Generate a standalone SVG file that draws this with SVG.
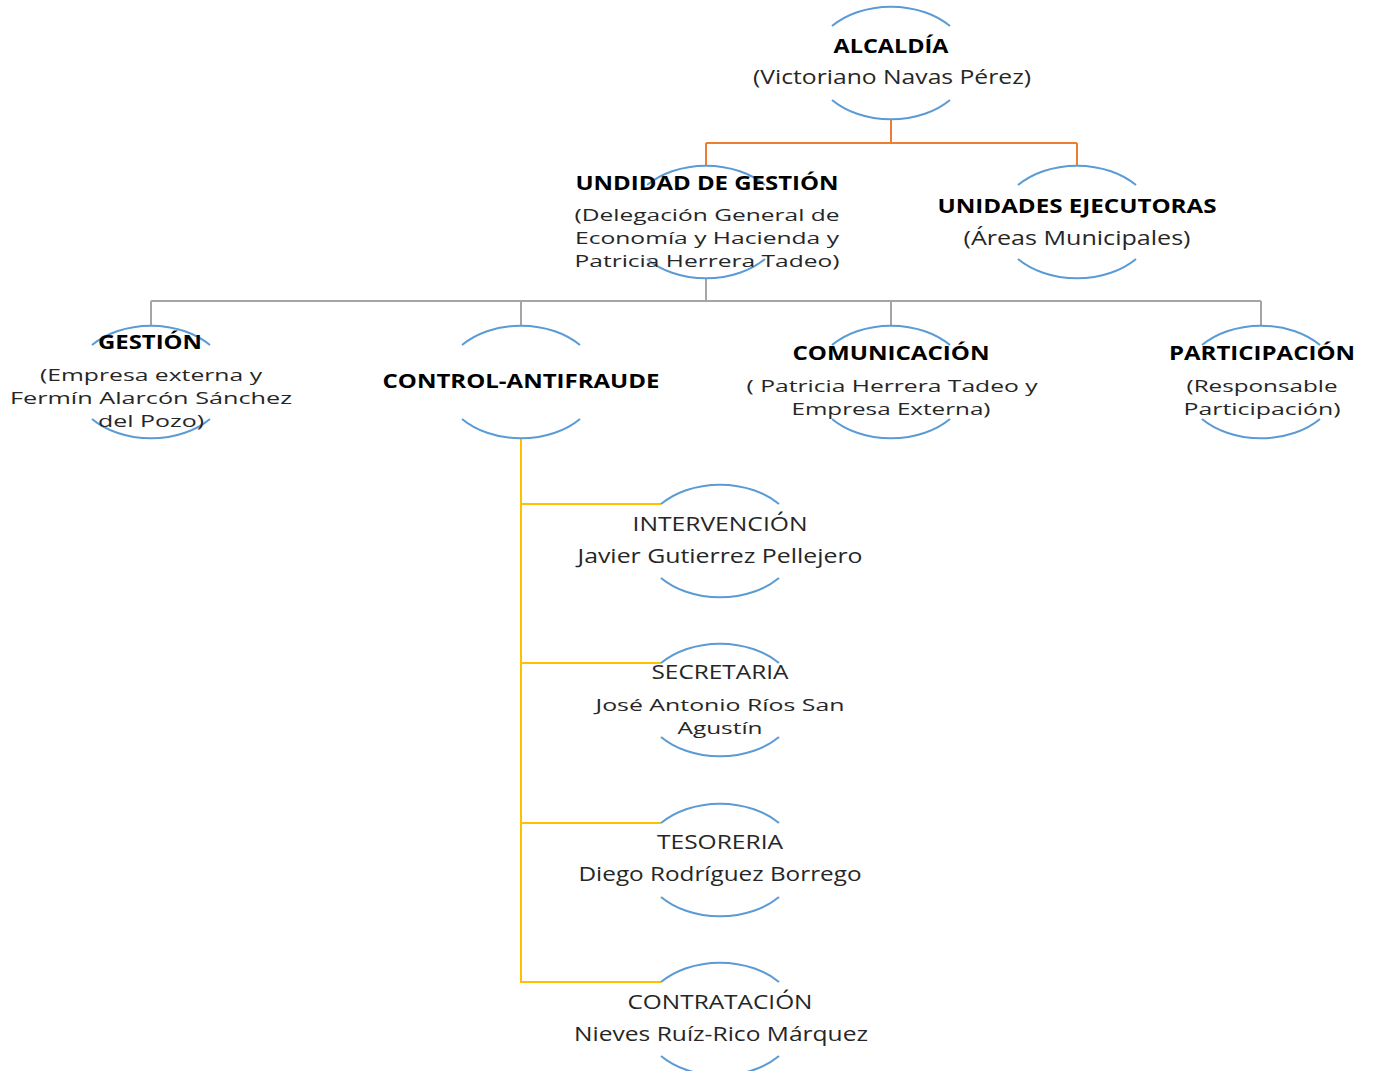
<svg xmlns="http://www.w3.org/2000/svg" width="1373" height="1071" viewBox="0 0 1373 1071">
<style>
.arc{fill:none;stroke:#5B9BD5;stroke-width:2}
.c{fill:none;stroke-width:2}
.o{stroke:#ED7D31}
.g{stroke:#A5A5A5}
.y{stroke:#FFC000}
text{font-family:"Open Sans","Liberation Sans",sans-serif;font-size:20px;fill:#262626;text-anchor:middle}
.m{font-size:17px}
.b{font-weight:700;fill:#000}
</style>
<defs>
<path id="ring" class="arc" d="M-59,-37 A78,56 0 0 1 59,-37 M-59,37 A78,56 0 0 0 59,37"/>
</defs>
<rect width="1373" height="1071" fill="#fff"/>
<g id="connectors">
<path class="c o" d="M891,119 V143 M706,143 H1077 M706,143 V166 M1077,143 V166"/>
<path class="c g" d="M706,278 V301 M151,301 H1261 M151,301 V326 M521,301 V326 M891,301 V326 M1261,301 V326"/>
<path class="c y" d="M521,438 V983 M521,504 H661 M521,663 H661 M521,823 H661 M521,982 H661"/>
</g>
<g id="alcaldia">
<use href="#ring" x="891" y="63"/>
<text class="b" x="891" y="53" textLength="115" lengthAdjust="spacingAndGlyphs">ALCALDÍA</text>
<text x="892" y="84" textLength="278" lengthAdjust="spacingAndGlyphs">(Victoriano Navas Pérez)</text>
</g>
<g id="unidad-gestion">
<use href="#ring" x="706" y="222"/>
<text class="b" x="707" y="190" textLength="263" lengthAdjust="spacingAndGlyphs">UNDIDAD DE GESTIÓN</text>
<text class="m" x="707" y="221" textLength="265" lengthAdjust="spacingAndGlyphs">(Delegación General de</text>
<text class="m" x="707" y="244" textLength="264" lengthAdjust="spacingAndGlyphs">Economía y Hacienda y</text>
<text class="m" x="707" y="267" textLength="265" lengthAdjust="spacingAndGlyphs">Patricia Herrera Tadeo)</text>
</g>
<g id="unidades-ejecutoras">
<use href="#ring" x="1077" y="222"/>
<text class="b" x="1077" y="213" textLength="279" lengthAdjust="spacingAndGlyphs">UNIDADES EJECUTORAS</text>
<text x="1077" y="245" textLength="227" lengthAdjust="spacingAndGlyphs">(Áreas Municipales)</text>
</g>
<g id="gestion">
<use href="#ring" x="151" y="382"/>
<text class="b" x="150" y="349" textLength="104" lengthAdjust="spacingAndGlyphs">GESTIÓN</text>
<text class="m" x="151" y="381" textLength="222" lengthAdjust="spacingAndGlyphs">(Empresa externa y</text>
<text class="m" x="151" y="404" textLength="282" lengthAdjust="spacingAndGlyphs">Fermín  Alarcón Sánchez</text>
<text class="m" x="151" y="427" textLength="106" lengthAdjust="spacingAndGlyphs">del Pozo)</text>
</g>
<g id="control-antifraude">
<use href="#ring" x="521" y="382"/>
<text class="b" x="521" y="388" textLength="277" lengthAdjust="spacingAndGlyphs">CONTROL-ANTIFRAUDE</text>
</g>
<g id="comunicacion">
<use href="#ring" x="891" y="382"/>
<text class="b" x="891" y="360" textLength="197" lengthAdjust="spacingAndGlyphs">COMUNICACIÓN</text>
<text class="m" x="892" y="392" textLength="291" lengthAdjust="spacingAndGlyphs">( Patricia Herrera Tadeo y</text>
<text class="m" x="891" y="415" textLength="199" lengthAdjust="spacingAndGlyphs">Empresa Externa)</text>
</g>
<g id="participacion">
<use href="#ring" x="1261" y="382"/>
<text class="b" x="1262" y="360" textLength="186" lengthAdjust="spacingAndGlyphs">PARTICIPACIÓN</text>
<text class="m" x="1262" y="392" textLength="151" lengthAdjust="spacingAndGlyphs">(Responsable</text>
<text class="m" x="1262" y="415" textLength="157" lengthAdjust="spacingAndGlyphs">Participación)</text>
</g>
<g id="intervencion">
<use href="#ring" x="720" y="541"/>
<text x="720" y="531" textLength="175" lengthAdjust="spacingAndGlyphs">INTERVENCIÓN</text>
<text x="720" y="563" textLength="285" lengthAdjust="spacingAndGlyphs">Javier Gutierrez Pellejero</text>
</g>
<g id="secretaria">
<use href="#ring" x="720" y="700"/>
<text x="720" y="679" textLength="137" lengthAdjust="spacingAndGlyphs">SECRETARIA</text>
<text class="m" x="720" y="711" textLength="249" lengthAdjust="spacingAndGlyphs">José Antonio Ríos San</text>
<text class="m" x="720" y="734" textLength="85" lengthAdjust="spacingAndGlyphs">Agustín</text>
</g>
<g id="tesoreria">
<use href="#ring" x="720" y="860"/>
<text x="720" y="849" textLength="126" lengthAdjust="spacingAndGlyphs">TESORERIA</text>
<text x="720" y="881" textLength="283" lengthAdjust="spacingAndGlyphs">Diego Rodríguez Borrego</text>
</g>
<g id="contratacion">
<use href="#ring" x="720" y="1019"/>
<text x="720" y="1009" textLength="185" lengthAdjust="spacingAndGlyphs">CONTRATACIÓN</text>
<text x="721" y="1041" textLength="294" lengthAdjust="spacingAndGlyphs">Nieves Ruíz-Rico Márquez</text>
</g>
</svg>
